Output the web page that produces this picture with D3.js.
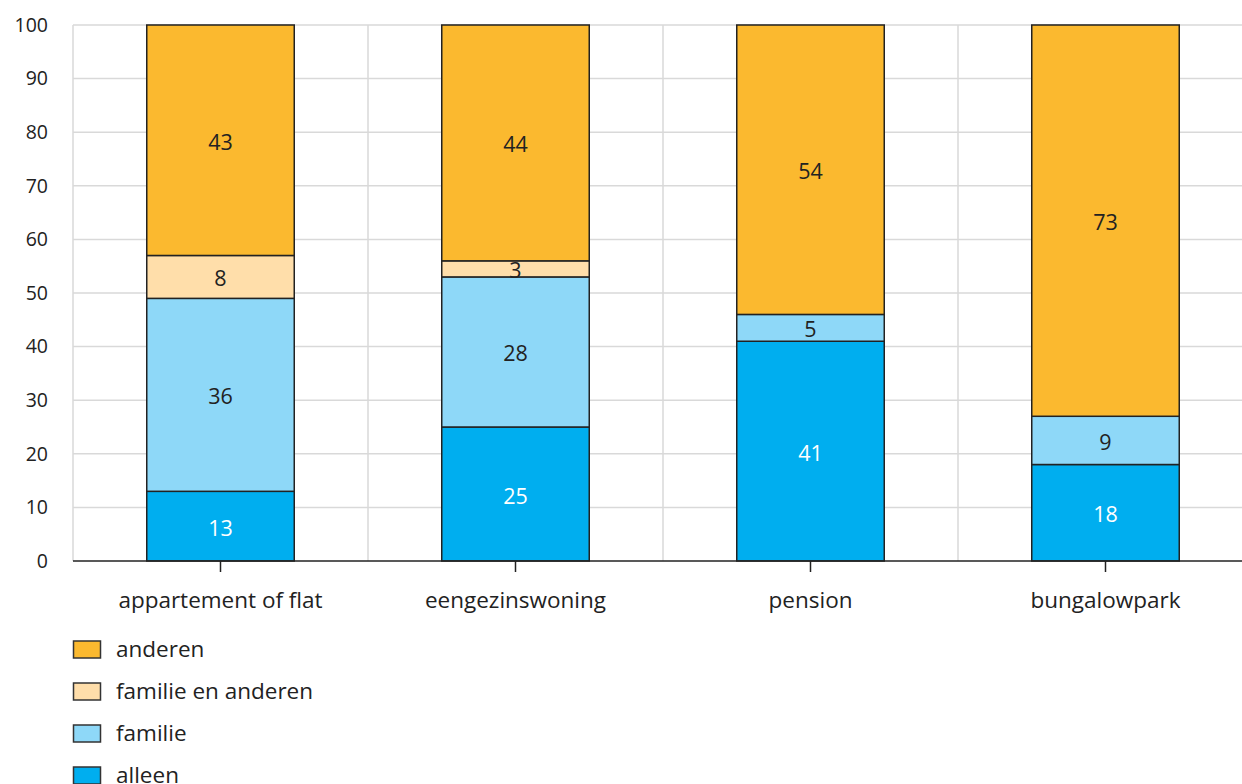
<!DOCTYPE html>
<html><head><meta charset="utf-8">
<script src="https://cdn.jsdelivr.net/npm/d3@7"></script>
<style>body{margin:0;background:#fff}svg{display:block;font-family:"Open Sans","Noto Sans",sans-serif}</style>
</head><body><svg id="c" width="1242" height="784"></svg>
<script>
const categories = ["appartement of flat","eengezinswoning","pension","bungalowpark"];
const seriesNames = ["alleen","familie","familie en anderen","anderen"];
const alleen = [13,25,41,18];
const familie = [36,28,5,9];
const familieEnAnderen = [8,3,0,0];
const anderen = [43,44,54,73];
const yTicks = [0,10,20,30,40,50,60,70,80,90,100];
const colors = ["#00aeef","#8ed8f8","#ffdeaa","#fbb92f"];
const labelColors = ["#ffffff","#222222","#222222","#222222"];

(function(){
const svg = d3.select("#c");
const pl = 73, pr = 1253, pt = 25, pb = 561;
const x = d3.scaleBand().domain(categories).range([pl,pr]).paddingInner(0.5).paddingOuter(0.25);
const y = d3.scaleLinear().domain([0,100]).range([pb,pt]);

const rows = categories.map((c,i)=>({cat:c, alleen:alleen[i], familie:familie[i], "familie en anderen":familieEnAnderen[i], anderen:anderen[i]}));
const stacked = d3.stack().keys(seriesNames)(rows);

// grid
const grid = svg.append("g");
grid.selectAll("line.h").data(yTicks.filter(t=>t>0)).join("line")
  .attr("x1",pl).attr("x2",pr).attr("y1",d=>y(d)).attr("y2",d=>y(d))
  .attr("stroke","#d9d9d9").attr("stroke-width",1.5);
const bounds = [pl].concat(categories.slice(1).map(c=>x(c) - (x.step()-x.bandwidth())/2));
grid.selectAll("line.v").data(bounds).join("line")
  .attr("x1",d=>d).attr("x2",d=>d).attr("y1",pt).attr("y2",pb)
  .attr("stroke","#d9d9d9").attr("stroke-width",1.5);

// y axis labels
svg.append("g").selectAll("text").data(yTicks).join("text")
  .attr("x",48).attr("y",d=>y(d)).attr("dy","0.35em").attr("text-anchor","end")
  .attr("font-size",19.5).attr("fill","#222").text(d=>d);

// bars
stacked.forEach((s,si)=>{
  const g = svg.append("g");
  const segs = s.filter(d=>d[1]-d[0]>0);
  g.selectAll("rect").data(segs).join("rect")
    .attr("x",d=>x(d.data.cat)).attr("width",x.bandwidth())
    .attr("y",d=>y(d[1])).attr("height",d=>y(d[0])-y(d[1]))
    .attr("fill",colors[si]).attr("stroke","#222").attr("stroke-width",1.5);
  g.selectAll("text").data(segs).join("text")
    .attr("x",d=>x(d.data.cat)+x.bandwidth()/2).attr("y",d=>y((d[0]+d[1])/2)+2)
    .attr("dy","0.35em").attr("text-anchor","middle").attr("font-size",21.5)
    .attr("fill",labelColors[si]).text(d=>d[1]-d[0]);
});

// x axis
svg.append("line").attr("x1",pl).attr("x2",pr).attr("y1",pb).attr("y2",pb)
  .attr("stroke","#222").attr("stroke-width",1.5);
const xa = svg.append("g");
xa.selectAll("line").data(categories).join("line")
  .attr("x1",d=>x(d)+x.bandwidth()/2).attr("x2",d=>x(d)+x.bandwidth()/2)
  .attr("y1",pb).attr("y2",pb+11).attr("stroke","#222").attr("stroke-width",1.5);
xa.selectAll("text").data(categories).join("text")
  .attr("x",d=>x(d)+x.bandwidth()/2).attr("y",600).attr("dy","0.35em")
  .attr("text-anchor","middle").attr("font-size",22.5).attr("fill","#222").text(d=>d);

// legend
const legendOrder = [3,2,1,0];
const lg = svg.append("g");
legendOrder.forEach((si,i)=>{
  const cy = 649 + i*42;
  lg.append("rect").attr("x",73.5).attr("y",cy-8).attr("width",27).attr("height",17)
    .attr("fill",colors[si]).attr("stroke","#333").attr("stroke-width",1.5);
  lg.append("text").attr("x",116).attr("y",cy).attr("dy","0.35em").attr("font-size",22.5)
    .attr("fill","#222").text(seriesNames[si]);
});
})();
</script></body></html>
